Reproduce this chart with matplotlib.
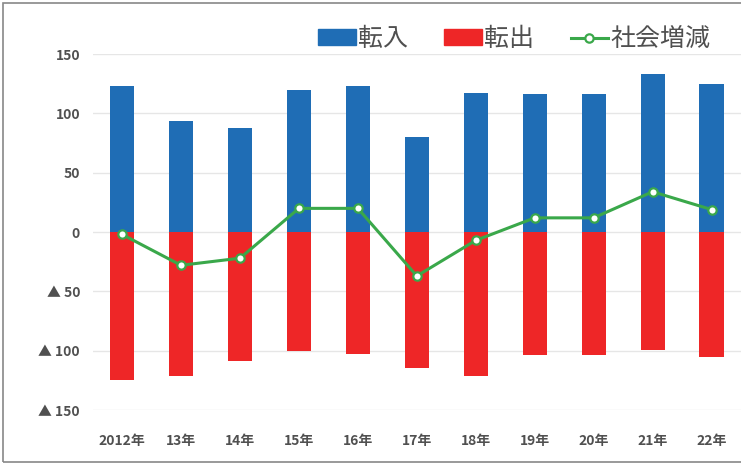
import matplotlib.pyplot as plt
from matplotlib.patches import Rectangle
from matplotlib.lines import Line2D

plt.rcParams['font.family'] = ['Noto Sans CJK JP', 'DejaVu Sans']

# データ
years = ['2012年', '13年', '14年', '15年', '16年', '17年', '18年', '19年', '20年', '21年', '22年']
tennyu = [123, 94, 88, 120, 123, 80, 117, 116, 116, 133, 125]
tenshutsu = [-125, -121, -109, -100, -103, -115, -121, -104, -104, -99, -105]
shakai = [-2, -28, -22, 20, 20, -37, -7, 12, 12, 34, 19]
yticks = [150, 100, 50, 0, -50, -100, -150]
ytick_labels = ['150', '100', '50', '0', '▲ 50', '▲ 100', '▲ 150']

blue = '#1f6db5'
red = '#ee2627'
green = '#3aa84a'
text_col = '#505050'

fig = plt.figure(figsize=(7.41, 4.71), dpi=100)
ax = fig.add_axes([0.125, 0.1295, 0.875, 0.7555])

x = list(range(len(years)))
ax.bar(x, tennyu, width=0.41, color=blue, zorder=2)
ax.bar(x, tenshutsu, width=0.41, color=red, zorder=2)
ax.plot(x, shakai, color=green, lw=2.2, marker='o', ms=6,
        mfc='white', mec=green, mew=1.6, zorder=3)

ax.set_xlim(-0.5, len(years) - 0.5)
ax.set_ylim(-150, 150)
ax.set_yticks(yticks)
ax.set_yticklabels(ytick_labels)
ax.set_xticks(x)
ax.set_xticklabels(years)
ax.tick_params(axis='both', length=0, colors=text_col, labelsize=10)
ax.tick_params(axis='x', pad=17)
ax.tick_params(axis='y', pad=9)
for lbl in ax.get_xticklabels() + ax.get_yticklabels():
    lbl.set_fontweight('bold')
ax.grid(axis='y', color='#e6e6e6', lw=1, zorder=0)
for s in ax.spines.values():
    s.set_visible(False)

handles = [Rectangle((0, 0), 1, 1, color=blue),
           Rectangle((0, 0), 1, 1, color=red),
           Line2D([], [], color=green, lw=2.2, marker='o', ms=6,
                  mfc='white', mec=green, mew=1.6)]
leg = fig.legend(handles, ['転入', '転出', '社会増減'], loc='center left',
                 bbox_to_anchor=(318 / 741, 1 - 39 / 471), ncol=3, frameon=False,
                 fontsize=18, handlelength=1.5, handleheight=0.6,
                 handletextpad=0.1, columnspacing=1.45,
                 borderpad=0, borderaxespad=0)
for t in leg.get_texts():
    t.set_color(text_col)

# 外枠
fig.patches.append(Rectangle((0.004, 0.019), 1.2, 0.975, transform=fig.transFigure,
                             fill=False, ec='#888888', lw=1.2))

fig.savefig('out.png', dpi=100)
